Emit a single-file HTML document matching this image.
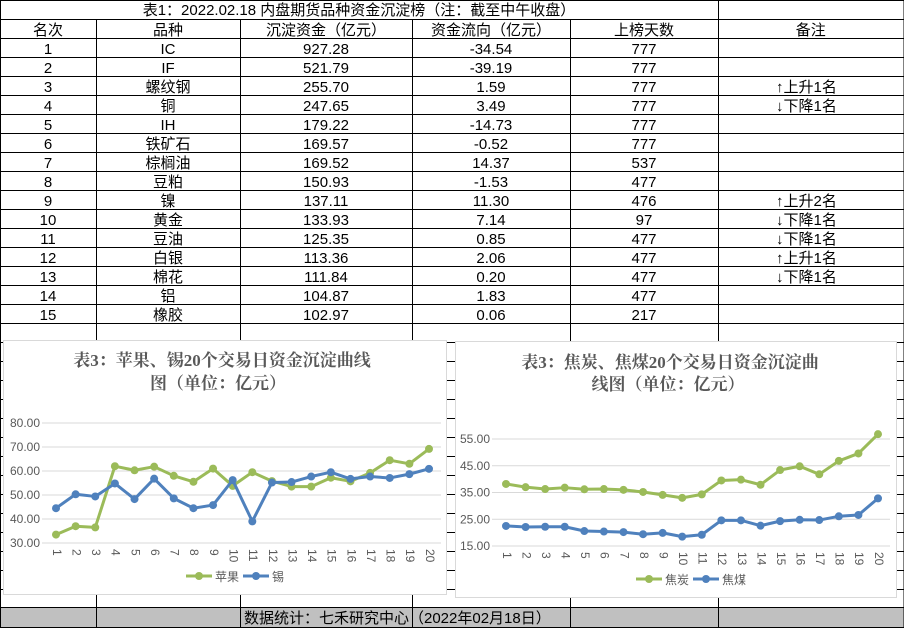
<!DOCTYPE html>
<html><head><meta charset="utf-8"><style>
html,body{margin:0;padding:0;background:#fff}
svg{display:block}
.t{font-family:"Liberation Sans","Noto Sans CJK SC",sans-serif;font-size:15px;fill:#000}
.ct{font-family:"Liberation Serif","Noto Serif CJK SC",serif;font-size:17px;font-weight:bold;fill:#595959}
.ax{font-family:"Liberation Sans","Noto Sans CJK SC",sans-serif;font-size:12px;fill:#595959}
</style></head><body>
<svg id="s" width="904" height="628" viewBox="0 0 904 628" xmlns="http://www.w3.org/2000/svg">
<rect x="0" y="608" width="904" height="20" fill="#c0c0c0"/>
<g id="grid"></g>
<g id="tbl"></g>
<text class="t" x="244" y="623">数据统计：七禾研究中心（2022年02月18日）</text>
<g id="c1"></g>
<g id="c2"></g>
</svg>
<script>
const rowsData=[
["1","IC","927.28","-34.54","777",""],
["2","IF","521.79","-39.19","777",""],
["3","螺纹钢","255.70","1.59","777","↑上升1名"],
["4","铜","247.65","3.49","777","↓下降1名"],
["5","IH","179.22","-14.73","777",""],
["6","铁矿石","169.57","-0.52","777",""],
["7","棕榈油","169.52","14.37","537",""],
["8","豆粕","150.93","-1.53","477",""],
["9","镍","137.11","11.30","476","↑上升2名"],
["10","黄金","133.93","7.14","97","↓下降1名"],
["11","豆油","125.35","0.85","477","↓下降1名"],
["12","白银","113.36","2.06","477","↑上升1名"],
["13","棉花","111.84","0.20","477","↓下降1名"],
["14","铝","104.87","1.83","477",""],
["15","橡胶","102.97","0.06","217",""]];
const headers=["名次","品种","沉淀资金（亿元）","资金流向（亿元）","上榜天数","备注"];
const days=["1","2","3","4","5","6","7","8","9","10","11","12","13","14","15","16","17","18","19","20"];
const apple=[33.5,37,36.5,62,60.3,61.8,58,55.5,61,53.8,59.5,55.8,53.5,53.5,57.2,55.7,59.2,64.5,63,69.2];
const tin=[44.5,50.3,49.4,54.8,48.3,56.8,48.6,44.5,45.8,56.2,39,55.2,55.4,57.7,59.5,56.7,57.7,57.1,58.7,60.9];
const coke=[38.2,37,36.3,36.8,36.2,36.3,36,35.2,34.1,33,34.3,39.5,39.8,37.9,43.4,44.8,41.8,46.8,49.6,56.8];
const coal=[22.5,22.1,22.2,22.2,20.6,20.4,20.2,19.4,19.9,18.5,19.2,24.6,24.6,22.6,24.3,24.8,24.7,26.1,26.6,32.8];
const ticks1=["30.00","40.00","50.00","60.00","70.00","80.00"];
const ticks2=["15.00","25.00","35.00","45.00","55.00"];
const NS="http://www.w3.org/2000/svg";
function mk(p,tag,a,txt){const e=document.createElementNS(NS,tag);for(const k in a)e.setAttribute(k,a[k]);if(txt!==undefined)e.textContent=txt;p.appendChild(e);return e;}
const grid=document.getElementById('grid'),tbl=document.getElementById('tbl');
const cols=[0,96,240,412,570,718,903.5];
for(let y=0.5;y<628;y+=19){const yy=y>600?607.5:y;
const l=mk(grid,'line',{x1:0,x2:904,y1:yy,y2:yy,stroke:'#000','stroke-width':1});

}
mk(grid,'line',{x1:0,x2:904,y1:627.5,y2:627.5,stroke:'#000'});
cols.forEach((x,i)=>{const y1=(i==0||i>=5)?0:19;
const l=mk(grid,'line',{x1:x+0.5,x2:x+0.5,y1:y1,y2:628,stroke:'#000'});

});
let tt=mk(tbl,'text',{class:'t',x:359,y:15,'text-anchor':'middle','font-size':'16'},'表1：2022.02.18 内盘期货品种资金沉淀榜（注：截至中午收盘）');


headers.forEach((h,i)=>{const e=mk(tbl,'text',{class:'t',x:(cols[i]+cols[i+1])/2,y:35,'text-anchor':'middle','font-size':'16'},h);

});
rowsData.forEach((r,ri)=>{const y=54+ri*19;r.forEach((v,i)=>{if(!v)return;
const a=i==5?{class:'t',x:776,y:y}:{class:'t',x:(cols[i]+cols[i+1])/2,y:y,'text-anchor':'middle'};
const e=mk(tbl,'text',a,v);

});});

function chart(g,box,title,tks,ymin,ystep,yTop,yBot,xL,xR,s1,s2,n1,n2,legY,legX){
 const r=mk(g,'rect',{x:box[0]+0.5,y:box[1]+0.5,width:box[2],height:box[3],fill:'#fff',stroke:'#d9d9d9'});
 
 
 title.forEach((t,i)=>{const e=mk(g,'text',{class:'ct',x:t[1],y:t[2],'text-anchor':'middle'},t[0]);
 
 });
 const ymax=ymin+ystep*(tks.length-1);
 const Y=v=>yBot-(v-ymin)/(ymax-ymin)*(yBot-yTop);
 const X=i=>xL+i*(xR-xL)/(days.length-1);
 tks.forEach((t,i)=>{const v=ymin+ystep*i,y=Y(v);
  const l=mk(g,'line',{x1:xL-14,x2:xR+12,y1:y,y2:y,stroke:'#d9d9d9'});
  
  
  const e=mk(g,'text',{class:'ax',x:xL-16,y:y+4,'text-anchor':'end'},t);
  
  });
 days.forEach((d,i)=>{const x=X(i),y=yBot+6;
  const e=mk(g,'text',{class:'ax',x:x,y:y,transform:`rotate(90 ${x} ${y})`,'dominant-baseline':'middle'},d);
  
  });
 [[s1,'#9bbb59',n1],[s2,'#4f81bd',n2]].forEach(([s,c,n])=>{
  const p=mk(g,'polyline',{points:s.map((v,i)=>X(i)+','+Y(v)).join(' '),fill:'none',stroke:c,'stroke-width':3,'stroke-linejoin':'round'});
  
  
  s.forEach((v,i)=>{const ci=mk(g,'circle',{cx:X(i),cy:Y(v),r:4,fill:c});
  
  });});
 [[n1,'#9bbb59',legX],[n2,'#4f81bd',legX+57]].forEach(([n,c,x])=>{
  const lg=mk(g,'g',{});
  
  
  mk(lg,'line',{x1:x,x2:x+26,y1:legY,y2:legY,stroke:c,'stroke-width':3});
  mk(lg,'circle',{cx:x+13,cy:legY,r:4,fill:c});
  mk(lg,'text',{class:'ax',x:x+29,y:legY+5,'font-size':'13'},n);});
}
chart(document.getElementById('c1'),[3,340,443,254],[["表3：苹果、锡20个交易日资金沉淀曲线",222,366],["图（单位：亿元）",218,389]],ticks1,30,10,423,543,56,429,apple,tin,'苹果','锡',576,186);
chart(document.getElementById('c2'),[455,341,441,256],[["表3：焦炭、焦煤20个交易日资金沉淀曲",670,368],["线图（单位：亿元）",668,390]],ticks2,15,10,439,546,506,878,coke,coal,'焦炭','焦煤',579,636);
</script>
</body></html>
